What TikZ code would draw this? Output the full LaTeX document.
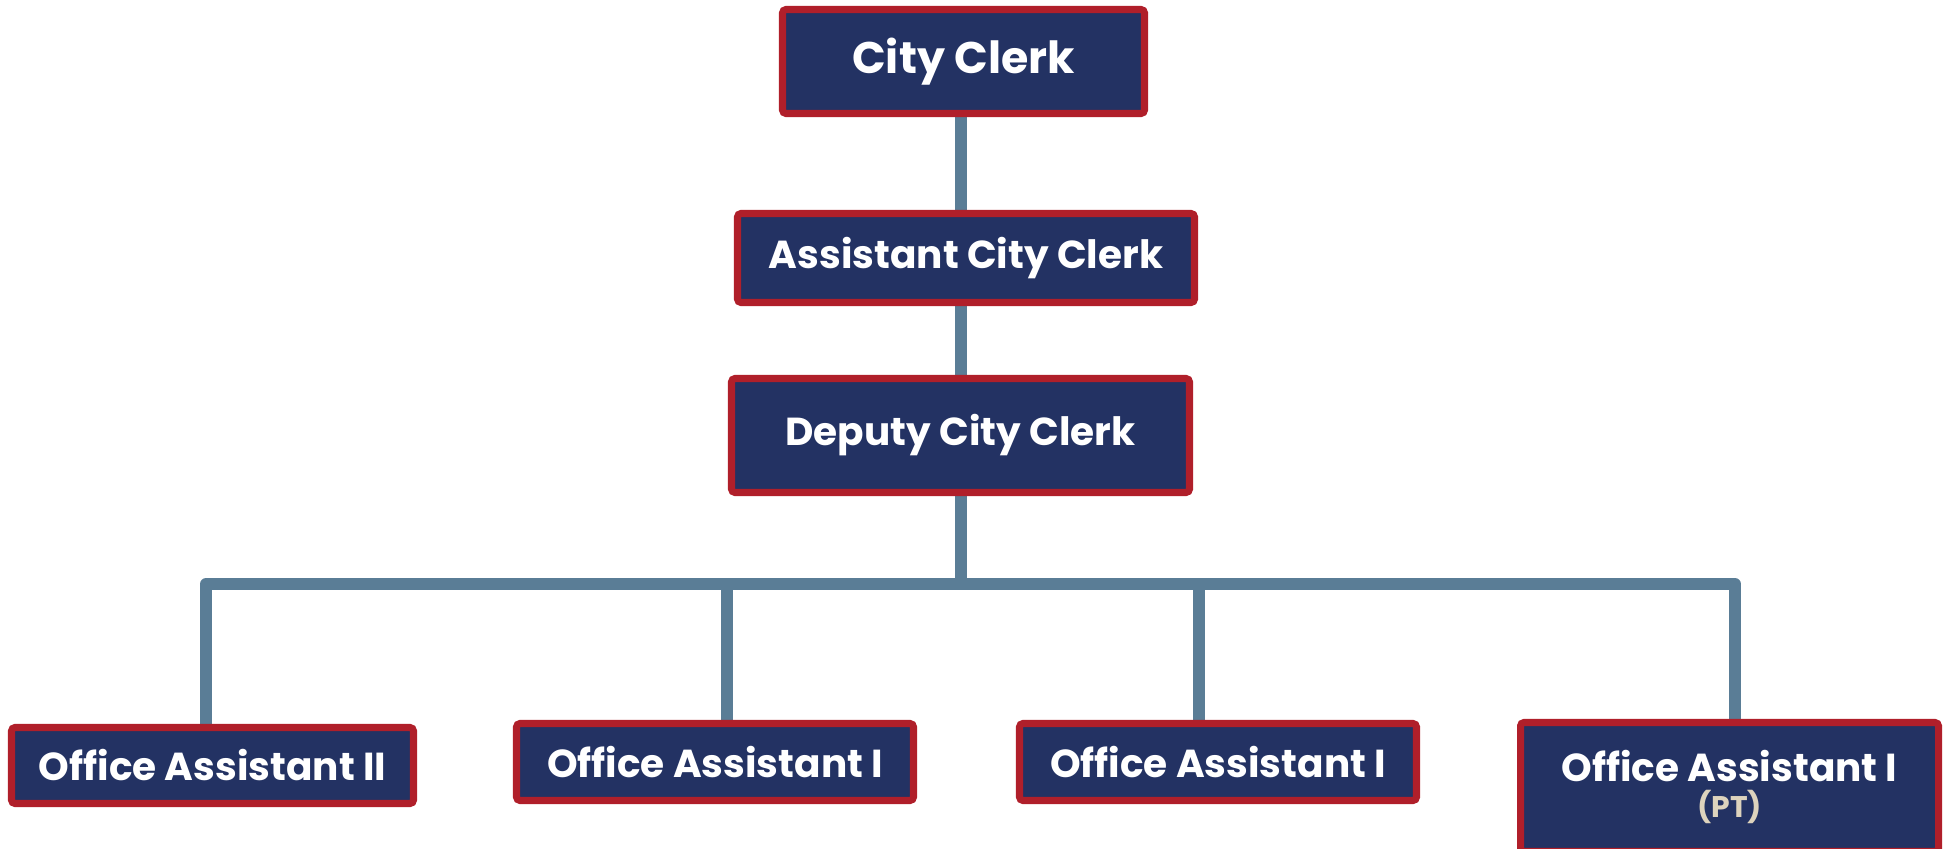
\documentclass[tikz,border=0pt]{standalone}
\usepackage{fontspec}
\setmainfont{Poppins}
\usetikzlibrary{positioning,backgrounds,calc}
\definecolor{clerknavy}{RGB}{35,50,99}
\definecolor{clerkred}{RGB}{176,31,42}
\definecolor{linkblue}{RGB}{90,125,150}
\definecolor{ptbeige}{RGB}{221,211,189}
\tikzstyle{post} = [rectangle, rounded corners=1pt, draw=clerkred, line width=2pt, fill=clerknavy, text=white, inner sep=0pt, align=center, font=\bfseries\fontsize{11.1}{13}\selectfont]
\tikzstyle{link} = [draw=linkblue, line width=3.4pt]

\begin{document}
\begin{tikzpicture}
\useasboundingbox (0,0) rectangle (19.48,8.48);
% top of the chart
\node (clerk) at (9.635,7.865) [post, minimum width=3.62cm, minimum height=1.04cm, font=\bfseries\fontsize{12.6}{14}\selectfont] {City Clerk};
\node (asst) at (9.66,5.90) [post, minimum width=4.57cm, minimum height=0.89cm] {Assistant City Clerk};
\node (deputy) at (9.605,4.125) [post, minimum width=4.58cm, minimum height=1.14cm] {Deputy City Clerk};
% office staff
\node (oa2) at (2.125,0.825) [post, minimum width=4.02cm, minimum height=0.76cm] {Office Assistant II};
\node (oa1a) at (7.15,0.86) [post, minimum width=3.97cm, minimum height=0.77cm] {Office Assistant I};
\node (oa1b) at (12.18,0.86) [post, minimum width=3.97cm, minimum height=0.77cm] {Office Assistant I};
\node (pt) at (17.295,0.61) [post, minimum width=4.18cm, minimum height=1.29cm] {Office Assistant I\\[-3pt]{\fontsize{8.5}{10}\selectfont\color{ptbeige}(PT)}};
\coordinate (spine) at (9.61,0);
\coordinate (d1) at (2.06,2.64);
\coordinate (d2) at (7.27,2.64);
\coordinate (d3) at (11.99,2.64);
\coordinate (d4) at (17.35,2.64);
\begin{scope}[on background layer]
\draw[link] (clerk.south -| spine) -- (asst.north -| spine);
\draw[link] (asst.south -| spine) -- (deputy.north -| spine);
\draw[link] (deputy.south -| spine) -- (spine |- d1);
\draw[link, line join=round] (oa2.north -| d1) |- (d4) -- (pt.north -| d4);
\draw[link] (d2) -- (oa1a.north -| d2);
\draw[link] (d3) -- (oa1b.north -| d3);
\end{scope}
\end{tikzpicture}
\end{document}
